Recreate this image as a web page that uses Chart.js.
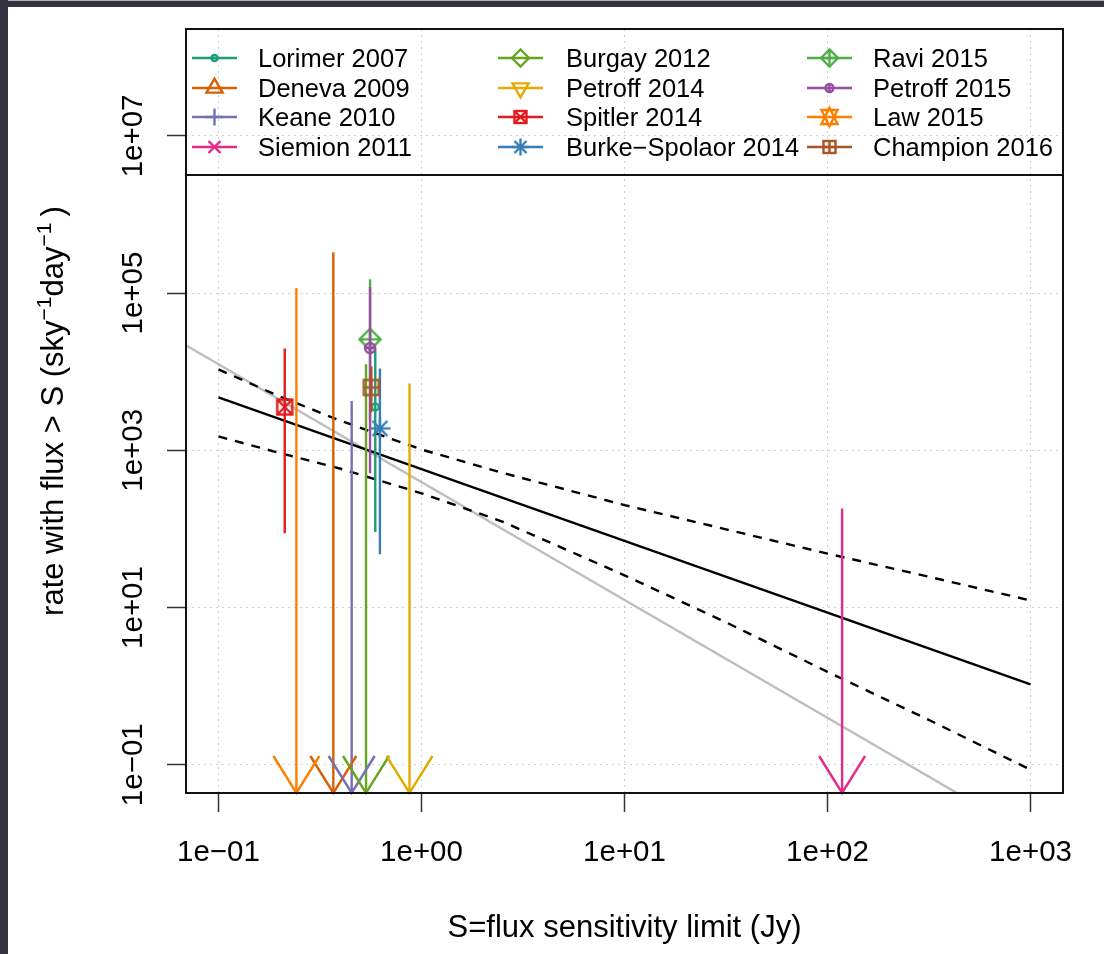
<!DOCTYPE html>
<html>
<head>
<meta charset="utf-8">
<title>FRB rate vs flux limit</title>
<script src="https://cdn.jsdelivr.net/npm/chart.js@4.4.1/dist/chart.umd.min.js"></script>
<style>
  html, body { margin: 0; padding: 0; background: #ffffff; }
  canvas { display: block; }
</style>
</head>
<body>
<canvas id="c" width="1104" height="954"></canvas>
<script>
// ---- survey data: flux limit (Jy) and all-sky rate (sky^-1 day^-1) ----
const surveys   = ['Lorimer 2007', 'Deneva 2009', 'Keane 2010', 'Siemion 2011',
                   'Burgay 2012', 'Petroff 2014', 'Spitler 2014', 'Burke\u2212Spolaor 2014',
                   'Ravi 2015', 'Petroff 2015', 'Law 2015', 'Champion 2016'];
const fluxLimit = [0.592, 0.368, 0.453, 118, 0.533, 0.873, 0.212, 0.624, 0.558, 0.558, 0.242, 0.566];
// central rate (null = upper limit only)
const rateMid   = [3550, null, null, null, null, null, 3550, 1900, 25800, 20000, null, 6300];
const rateHigh  = [19900, 330000, 4240, 182, 12400, 7100, 19800, 11000, 150000, 120000, 116000, 11700];
const rateLow   = [91, null, null, null, null, null, 88, 47.5, 2400, 510, null, 3050];

// ---- fitted power laws ----
const fitFlux      = [0.1, 1000];
const fitRate      = [4720, 1.05];
const bandFlux     = [0.1, 0.2, 0.4, 1, 2.5, 10, 32, 100, 320, 1000];
const bandUpper    = [10700, 4850, 2370, 1023, 518, 201, 98, 48.5, 24.4, 12.3];
const bandLower    = [1500, 924, 582, 284, 124, 25.7, 6.38, 1.52, 0.365, 0.0863];
const euclidFlux   = [0.05, 1000];
const euclidRate   = [35300, 0.0125];

// ---- axes ----
const xTickValues = [0.1, 1, 10, 100, 1000];
const xTickLabels = ['1e\u221201', '1e+00', '1e+01', '1e+02', '1e+03'];
const yTickValues = [0.1, 10, 1000, 1e5, 1e7];
const yTickLabels = ['1e\u221201', '1e+01', '1e+03', '1e+05', '1e+07'];
const xRange = [Math.pow(10, -1.16), Math.pow(10, 3.16)];
const yRange = [Math.pow(10, -1.36), Math.pow(10, 8.36)];

// ---- styles ----
const colors = ['#1b9e77', '#d95f02', '#7570b3', '#e7298a', '#66a61e', '#e6ab02',
                '#e41a1c', '#377eb8', '#4daf4a', '#984ea3', '#ff7f00', '#a65628'];
const pchCodes   = [1, 2, 3, 4, 5, 6, 7, 8, 9, 10, 11, 12];
const plotSize   = [3.5, 7.5, 7.5, 7.5, 7.5, 7.5, 7.5, 7.5, 7.5, 5, 7.5, 7.5];
const legendSize = [3, 6, 6, 6, 6, 6, 6, 6, 6, 4, 6, 6];
const LW = 2.4;
const FONT = '"Liberation Sans", Arial, Helvetica, sans-serif';

// R-style plotting symbols
function drawPch(ctx, pch, x, y, r, color, lw) {
  ctx.save();
  ctx.strokeStyle = color;
  ctx.lineWidth = lw;
  ctx.lineJoin = 'miter';
  ctx.lineCap = 'butt';
  const line = (x1, y1, x2, y2) => { ctx.beginPath(); ctx.moveTo(x1, y1); ctx.lineTo(x2, y2); ctx.stroke(); };
  const poly = (pts) => {
    ctx.beginPath();
    pts.forEach((p, i) => i ? ctx.lineTo(p[0], p[1]) : ctx.moveTo(p[0], p[1]));
    ctx.closePath(); ctx.stroke();
  };
  const circle = (rad) => { ctx.beginPath(); ctx.arc(x, y, rad, 0, Math.PI * 2); ctx.stroke(); };
  const T0 = 1.5551203015562142, T1 = T0 * Math.sqrt(3) / 2, T2 = T0 / 2, S2 = Math.SQRT2;
  const tri = (up) => {
    const rr = T0 * r, yc = T2 * r, xc = T1 * r;
    if (up) poly([[x, y - rr], [x + xc, y + yc], [x - xc, y + yc]]);
    else poly([[x, y + rr], [x + xc, y - yc], [x - xc, y - yc]]);
  };
  switch (pch) {
    case 1: circle(r); break;
    case 2: tri(true); break;
    case 3: { const c = S2 * r; line(x - c, y, x + c, y); line(x, y - c, x, y + c); break; }
    case 4: line(x - r, y - r, x + r, y + r); line(x - r, y + r, x + r, y - r); break;
    case 5: { const c = S2 * r; poly([[x - c, y], [x, y - c], [x + c, y], [x, y + c]]); break; }
    case 6: tri(false); break;
    case 7: ctx.strokeRect(x - r, y - r, 2 * r, 2 * r);
            line(x - r, y - r, x + r, y + r); line(x - r, y + r, x + r, y - r); break;
    case 8: { line(x - r, y - r, x + r, y + r); line(x - r, y + r, x + r, y - r);
              const c = S2 * r; line(x - c, y, x + c, y); line(x, y - c, x, y + c); break; }
    case 9: { const c = S2 * r; poly([[x - c, y], [x, y - c], [x + c, y], [x, y + c]]);
              line(x - c, y, x + c, y); line(x, y - c, x, y + c); break; }
    case 10: circle(r); line(x - r, y, x + r, y); line(x, y - r, x, y + r); break;
    case 11: { const rr = T0 * r; const yc = 0.5 * (T2 * r + rr); const xc = T1 * r;
               poly([[x, y - rr], [x + xc, y + yc], [x - xc, y + yc]]);
               poly([[x, y + rr], [x + xc, y - yc], [x - xc, y - yc]]); break; }
    case 12: ctx.strokeRect(x - r, y - r, 2 * r, 2 * r);
             line(x - r, y, x + r, y); line(x, y - r, x, y + r); break;
  }
  ctx.restore();
}

function markerCanvas(pch, r, color) {
  const size = 2 * Math.ceil(r * 1.7 + 3);
  const c = document.createElement('canvas');
  c.width = size; c.height = size;
  drawPch(c.getContext('2d'), pch, size / 2, size / 2, r, color, LW);
  return c;
}

// ---- datasets, listed in drawing sequence (first = bottom layer) ----
const seq = [];
seq.push({
  data: euclidFlux.map((s, i) => ({ x: s, y: euclidRate[i] })),
  borderColor: '#bebebe', borderWidth: LW, pointRadius: 0
});
seq.push({
  data: fitFlux.map((s, i) => ({ x: s, y: fitRate[i] })),
  borderColor: '#000000', borderWidth: LW, pointRadius: 0
});
seq.push({
  data: bandFlux.map((s, i) => ({ x: s, y: bandUpper[i] })),
  borderColor: '#000000', borderWidth: LW, borderDash: [9, 8], pointRadius: 0
});
seq.push({
  data: bandFlux.map((s, i) => ({ x: s, y: bandLower[i] })),
  borderColor: '#000000', borderWidth: LW, borderDash: [9, 8], pointRadius: 0
});
surveys.forEach((name, i) => {
  const lo = rateMid[i] === null ? yRange[0] : rateLow[i];
  seq.push({
    label: name,
    data: [{ x: fluxLimit[i], y: rateHigh[i] }, { x: fluxLimit[i], y: lo }],
    borderColor: colors[i], borderWidth: LW, pointRadius: 0
  });
  if (rateMid[i] !== null) {
    seq.push({
      label: name,
      data: [{ x: fluxLimit[i], y: rateMid[i] }],
      showLine: false,
      pointStyle: markerCanvas(pchCodes[i], plotSize[i], colors[i]),
      pointRadius: 8, pointBorderWidth: 0
    });
  }
});
const datasets = seq.map((d, i) => Object.assign({ order: seq.length - i, fill: false, tension: 0 }, d));

// ---- plugins ----
const pageBackground = {
  id: 'pageBackground',
  beforeDraw(chart) {
    const ctx = chart.ctx;
    ctx.save();
    ctx.fillStyle = '#ffffff';
    ctx.fillRect(0, 0, chart.width, chart.height);
    ctx.fillStyle = '#36323f';
    ctx.fillRect(0, 0, chart.width, 7);
    ctx.fillRect(0, 0, 8, chart.height);
    ctx.fillStyle = '#b4b4b8';
    ctx.fillRect(8, 0, chart.width - 8, 1);
    ctx.restore();
  }
};

const limitArrows = {
  id: 'limitArrows',
  afterDatasetsDraw(chart) {
    const { ctx, scales: { x, y } } = chart;
    ctx.save();
    ctx.lineWidth = LW;
    ctx.lineCap = 'butt';
    ctx.lineJoin = 'miter';
    surveys.forEach((name, i) => {
      if (rateMid[i] !== null) return;
      const px = x.getPixelForValue(fluxLimit[i]);
      const py = y.getPixelForValue(yRange[0]);
      ctx.strokeStyle = colors[i];
      ctx.beginPath();
      ctx.moveTo(px - 23, py - 37);
      ctx.lineTo(px, py);
      ctx.lineTo(px + 23, py - 37);
      ctx.stroke();
    });
    ctx.restore();
  }
};

const frameAndText = {
  id: 'frameAndText',
  afterDraw(chart) {
    const { ctx, chartArea: a, scales: { x, y } } = chart;
    ctx.save();
    // plot frame
    ctx.strokeStyle = '#111111';
    ctx.lineWidth = 2;
    ctx.strokeRect(a.left, a.top, a.right - a.left, a.bottom - a.top);

    // tick labels
    ctx.fillStyle = '#000000';
    ctx.font = '29.5px ' + FONT;
    ctx.textAlign = 'center';
    ctx.textBaseline = 'alphabetic';
    xTickValues.forEach((v, i) => ctx.fillText(xTickLabels[i], x.getPixelForValue(v), 861));
    yTickValues.forEach((v, i) => {
      ctx.save();
      ctx.translate(142, y.getPixelForValue(v));
      ctx.rotate(-Math.PI / 2);
      ctx.fillText(yTickLabels[i], 0, 0);
      ctx.restore();
    });

    // axis titles
    ctx.font = '31px ' + FONT;
    ctx.fillText('S=flux sensitivity limit (Jy)', (a.left + a.right) / 2, 937);
    const big = '31px ' + FONT, small = '21px ' + FONT;
    const parts = [
      { t: 'rate with flux > S (', f: big, dy: 0 },
      { t: 'sky', f: big, dy: 0 },
      { t: '\u22121', f: small, dy: -12 },
      { t: 'day', f: big, dy: 0 },
      { t: '\u22121', f: small, dy: -12 },
      { t: '\u2009)', f: big, dy: 0 }
    ];
    let total = 0;
    parts.forEach(p => { ctx.font = p.f; p.w = ctx.measureText(p.t).width; total += p.w; });
    ctx.save();
    ctx.translate(63, (a.top + a.bottom) / 2);
    ctx.rotate(-Math.PI / 2);
    ctx.textAlign = 'left';
    let cx = -total / 2;
    parts.forEach(p => { ctx.font = p.f; ctx.fillText(p.t, cx, p.dy); cx += p.w; });
    ctx.restore();

    // legend
    const legTop = a.top, legBottom = 175;
    ctx.strokeStyle = '#111111';
    ctx.lineWidth = 2;
    ctx.strokeRect(a.left, legTop, a.right - a.left, legBottom - legTop);
    const colLine = [192, 498, 807];
    const colText = [258, 566, 873];
    const rowY = [58, 88, 117, 147];
    ctx.font = '25.5px ' + FONT;
    ctx.textAlign = 'left';
    surveys.forEach((name, i) => {
      const col = Math.floor(i / 4), row = i % 4;
      const ly = rowY[row];
      ctx.strokeStyle = colors[i];
      ctx.lineWidth = LW;
      ctx.beginPath();
      ctx.moveTo(colLine[col], ly);
      ctx.lineTo(colLine[col] + 45, ly);
      ctx.stroke();
      drawPch(ctx, pchCodes[i], colLine[col] + 22.5, ly, legendSize[i], colors[i], LW);
      ctx.fillStyle = '#000000';
      ctx.fillText(name, colText[col], ly + 9);
    });
    ctx.restore();
  }
};

// ---- chart ----
const gridCommon = {
  color: '#d0d0d0', lineWidth: 1,
  drawTicks: true, tickLength: 19, tickColor: '#333333', tickWidth: 1.5, tickBorderDash: []
};

new Chart(document.getElementById('c'), {
  type: 'line',
  data: { datasets },
  options: {
    responsive: false,
    animation: false,
    events: [],
    devicePixelRatio: 1,
    layout: { padding: { top: 29, right: 41, bottom: 0, left: 0 } },
    plugins: { legend: { display: false }, tooltip: { enabled: false }, title: { display: false } },
    scales: {
      x: {
        type: 'logarithmic', position: 'bottom',
        min: xRange[0], max: xRange[1], bounds: 'data',
        afterBuildTicks: s => { s.ticks = xTickValues.map(v => ({ value: v })); },
        afterFit: s => { s.height = 161; },
        ticks: { display: false },
        grid: gridCommon,
        border: { display: false, dash: [2, 4] }
      },
      y: {
        type: 'logarithmic', position: 'left',
        min: yRange[0], max: yRange[1], bounds: 'data',
        afterBuildTicks: s => { s.ticks = yTickValues.map(v => ({ value: v })); },
        afterFit: s => { s.width = 186; },
        ticks: { display: false },
        grid: gridCommon,
        border: { display: false, dash: [2, 4] }
      }
    }
  },
  plugins: [pageBackground, limitArrows, frameAndText]
});
</script>
</body>
</html>
